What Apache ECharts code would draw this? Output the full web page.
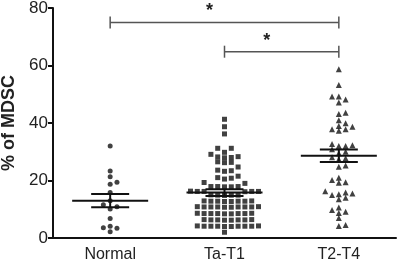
<!DOCTYPE html>
<html>
<head>
<meta charset="utf-8">
<script src="https://cdn.jsdelivr.net/npm/echarts@6/dist/echarts.min.js"></script>
<style>html,body{margin:0;padding:0;background:#fff}#chart{width:400px;height:263px}</style>
</head>
<body>
<div id="chart"></div>
<script>
const categories = ['Normal', 'Ta-T1', 'T2-T4'];
const yTicks = [0, 20, 40, 60, 80];

// values
const normalValues = [32, 23.3, 21.3, 19.4, 18.7, 15.8, 13, 11.6, 10.9, 10.1, 6.8, 4.1, 3.6, 3.4, 2.2];
const taT1Values = [
  41.3, 38.7, 36.2, 31.2, 31.2, 29.8, 29.1, 28.3, 28.2, 28, 27.9, 26.5, 26.3, 26.2,
  24.7, 23.6, 23.4, 23.2, 21.5, 21, 20.8, 20.5, 19.3, 19,
  17.9, 17.9, 17.8, 17.9, 17.8, 16.2, 16.2, 16.1, 16.2, 16.3, 16.2,
  14.9, 14.9, 14.8, 15.0, 14.9,
  12.8, 12.8, 12.7, 12.9, 12.8, 12.7, 12.8, 12.9,
  10.8, 10.8, 10.7, 10.9, 10.8, 10.8, 10.7, 10.9, 10.8, 10.8,
  8.5, 8.5, 8.4, 8.6, 8.5, 8.5, 8.4, 8.6, 8.5,
  6.3, 6.3, 6.2, 6.4, 6.3, 6.3, 6.2, 6.4,
  4.1, 4.1, 4.0, 4.2, 4.1, 4.1, 4.0, 4.2, 4.1, 4.1,
  2.0
];
const t2T4Values = [
  58.7, 53.2, 49.2, 49.2, 48.2, 47.1, 43.6, 43.1, 41, 39.9, 39, 38.7, 37.8, 37.8, 37.3,
  32.7, 32.3, 32, 32, 30.9, 30, 29.5, 28.1, 27.7, 27.4, 25.2, 24.8, 21, 20.2, 19.4, 19.2,
  16.3, 15.8, 15.5, 15.2, 15, 14, 13.5, 10.6, 9.7, 9.1, 8.7, 7, 4.5, 4.2
];
const meanValues = [13.0, 15.8, 28.6];
const semValues = [2.3, 1.2, 2.2];
// [from category, to category, height]
const brackets = [[0, 2, 75], [1, 2, 64.8]];
const bracketLabels = ['*', '*'];

const font = 'Liberation Sans, Arial, Helvetica, sans-serif';
const chart = echarts.init(document.getElementById('chart'));

chart.setOption({
  animation: false,
  backgroundColor: '#fff',
  grid: { left: 53, right: 4, top: 8, bottom: 25, outerBoundsMode: 'none', containLabel: false },
  xAxis: [{
    type: 'category',
    data: categories,
    axisLine: { lineStyle: { color: '#111', width: 2 } },
    axisTick: { alignWithLabel: true, length: 5, lineStyle: { color: '#111', width: 2 } },
    axisLabel: { color: '#222', fontSize: 16, fontFamily: font, margin: 9 }
  }, {
    type: 'value', min: -0.5, max: 2.5, show: false
  }],
  yAxis: {
    type: 'value',
    min: yTicks[0],
    max: yTicks[yTicks.length - 1],
    interval: 20,
    name: '% of MDSC',
    nameLocation: 'middle',
    nameGap: 31,
    nameTextStyle: { color: '#222', fontSize: 18, fontWeight: 'bold', fontFamily: font },
    axisLine: { show: true, onZero: false, lineStyle: { color: '#111', width: 2 } },
    axisTick: { show: true, length: 5, lineStyle: { color: '#111', width: 2 } },
    axisLabel: { color: '#222', fontSize: 17, fontFamily: font, margin: 5 },
    splitLine: { show: false }
  }
});

// beeswarm layout: columns STEP px apart, points in one column at least ROW px apart
const STEP = 6.8, ROW = 4.6;
const yPx = v => chart.convertToPixel({ yAxisIndex: 0 }, v);
const xUnit = chart.convertToPixel({ xAxisIndex: 1 }, 1) - chart.convertToPixel({ xAxisIndex: 1 }, 0);

let swarm = (values, cat) => {
  const placed = [];
  return values.slice().sort((a, b) => a - b).map(v => {
    const y = yPx(v);
    for (let i = 0; ; i++) {
      const k = i === 0 ? 0 : (i % 2 ? (i + 1) / 2 : -i / 2);
      if (!placed.some(p => p.k === k && Math.abs(p.y - y) < ROW)) {
        placed.push({ k, y });
        return [cat + k * STEP / xUnit, v];
      }
    }
  });
};

const dot = (name, values, cat, symbol, size) => ({
  name, type: 'scatter', xAxisIndex: 1, yAxisIndex: 0,
  symbol, symbolSize: size,
  itemStyle: { color: '#111' },
  data: swarm(values, cat), z: 2
});

chart.setOption({
  series: [
    dot('Normal', normalValues, 0, 'circle', 5),
    dot('Ta-T1', taT1Values, 1, 'rect', 5),
    dot('T2-T4', t2T4Values, 2, 'triangle', 6),
    {
      type: 'custom',
      xAxisIndex: 0, yAxisIndex: 0, z: 5,
      data: categories.map((c, i) => [i, meanValues[i], semValues[i]]),
      renderItem: (params, api) => {
        const c = api.coord([api.value(0), api.value(1)]);
        const t = api.coord([api.value(0), api.value(1) + api.value(2)]);
        const b = api.coord([api.value(0), api.value(1) - api.value(2)]);
        const style = { stroke: '#111', lineWidth: 2 };
        return {
          type: 'group', children: [
            { type: 'line', shape: { x1: c[0] - 38, y1: c[1], x2: c[0] + 38, y2: c[1] }, style },
            { type: 'line', shape: { x1: c[0] - 19, y1: t[1], x2: c[0] + 19, y2: t[1] }, style },
            { type: 'line', shape: { x1: c[0] - 19, y1: b[1], x2: c[0] + 19, y2: b[1] }, style },
            { type: 'line', shape: { x1: c[0], y1: t[1], x2: c[0], y2: b[1] }, style }
          ]
        };
      }
    },
    {
      type: 'custom',
      xAxisIndex: 0, yAxisIndex: 0, z: 5,
      data: brackets,
      encode: { x: [0, 1], y: 2 },
      renderItem: (params, api) => {
        const a = api.coord([api.value(0), api.value(2)]);
        const b = api.coord([api.value(1), api.value(2)]);
        const style = { stroke: '#555', lineWidth: 1.5 };
        const mid = (a[0] + b[0]) / 2 - 15;
        return {
          type: 'group', children: [
            { type: 'line', shape: { x1: a[0], y1: a[1], x2: b[0], y2: b[1] }, style },
            { type: 'line', shape: { x1: a[0], y1: a[1] - 6, x2: a[0], y2: a[1] + 6 }, style },
            { type: 'line', shape: { x1: b[0], y1: b[1] - 6, x2: b[0], y2: b[1] + 6 }, style },
            {
              type: 'text',
              style: {
                text: bracketLabels[params.dataIndex], x: mid, y: a[1] - 2,
                align: 'center', verticalAlign: 'bottom',
                fill: '#222', font: 'bold 18px ' + font
              }
            }
          ]
        };
      }
    }
  ]
});
</script>
</body>
</html>
